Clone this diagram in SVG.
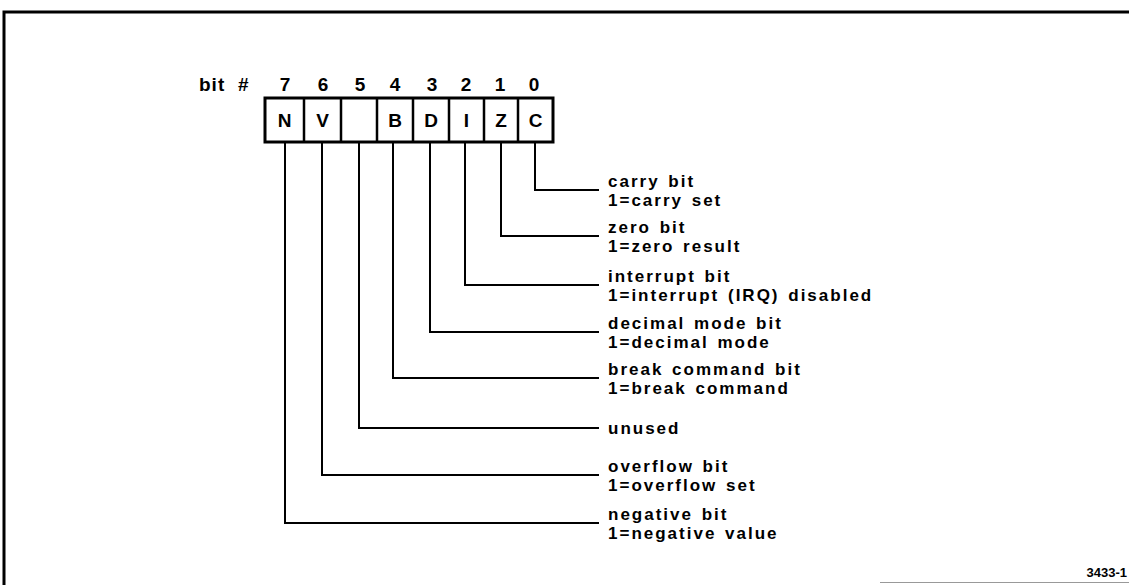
<svg xmlns="http://www.w3.org/2000/svg" width="1129" height="585" viewBox="0 0 1129 585">
<style>
text{font-family:"Liberation Sans",Arial,Helvetica,sans-serif;font-weight:bold;fill:#000}
.num{font-size:19px;text-anchor:middle}
.cell{font-size:19px;text-anchor:middle}
.lbl{font-size:17px;letter-spacing:2px;word-spacing:2px}
.conn{fill:none;stroke:#000;stroke-width:2}
</style>
<rect width="1129" height="585" fill="#fff"/>
<g id="frame">
<path d="M4,585 V12 H1129" fill="none" stroke="#000" stroke-width="3"/>
<path d="M880,582.5 H1129" fill="none" stroke="#999" stroke-width="1"/>
<text x="1127" y="577" font-size="13" text-anchor="end">3433-1</text>
</g>
<g id="bitnumbers">
<text x="199" y="91" font-size="19" letter-spacing="1">bit<tspan x="238">#</tspan></text>
<text class="num" x="285" y="91">7</text>
<text class="num" x="323" y="91">6</text>
<text class="num" x="360" y="91">5</text>
<text class="num" x="395" y="91">4</text>
<text class="num" x="432" y="91">3</text>
<text class="num" x="466" y="91">2</text>
<text class="num" x="500" y="91">1</text>
<text class="num" x="534" y="91">0</text>
</g>
<g id="register">
<rect x="265" y="98" width="288" height="44" fill="none" stroke="#000" stroke-width="3"/>
<path d="M304,98V142M341,98V142M377,98V142M413,98V142M449,98V142M484,98V142M518,98V142" stroke="#000" stroke-width="2.5"/>
<text class="cell" x="284.5" y="127">N</text>
<text class="cell" x="322.5" y="127">V</text>
<text class="cell" x="395" y="127">B</text>
<text class="cell" x="431" y="127">D</text>
<text class="cell" x="466.5" y="127">I</text>
<text class="cell" x="501" y="127">Z</text>
<text class="cell" x="535.5" y="127">C</text>
</g>
<g id="connectors">
<path class="conn" d="M535,142V190H599"/>
<path class="conn" d="M501,142V236H599"/>
<path class="conn" d="M465,142V285H599"/>
<path class="conn" d="M430,142V332H599"/>
<path class="conn" d="M393,142V378H599"/>
<path class="conn" d="M359,142V428H599"/>
<path class="conn" d="M322,142V475H599"/>
<path class="conn" d="M285,142V523H599"/>
</g>
<g id="label-carry"><text class="lbl" x="608" y="187">carry bit<tspan x="608" dy="19.2">1=carry set</tspan></text></g>
<g id="label-zero"><text class="lbl" x="608" y="233">zero bit<tspan x="608" dy="19.2">1=zero result</tspan></text></g>
<g id="label-interrupt"><text class="lbl" x="608" y="282">interrupt bit<tspan x="608" dy="19.2">1=interrupt (IRQ)  disabled</tspan></text></g>
<g id="label-decimal"><text class="lbl" x="608" y="329">decimal mode bit<tspan x="608" dy="19.2">1=decimal mode</tspan></text></g>
<g id="label-break"><text class="lbl" x="608" y="375">break command bit<tspan x="608" dy="19.2">1=break command</tspan></text></g>
<g id="label-unused"><text class="lbl" x="608" y="434">unused</text></g>
<g id="label-overflow"><text class="lbl" x="608" y="472">overflow bit<tspan x="608" dy="19.2">1=overflow set</tspan></text></g>
<g id="label-negative"><text class="lbl" x="608" y="520">negative bit<tspan x="608" dy="19.2">1=negative value</tspan></text></g>
</svg>
